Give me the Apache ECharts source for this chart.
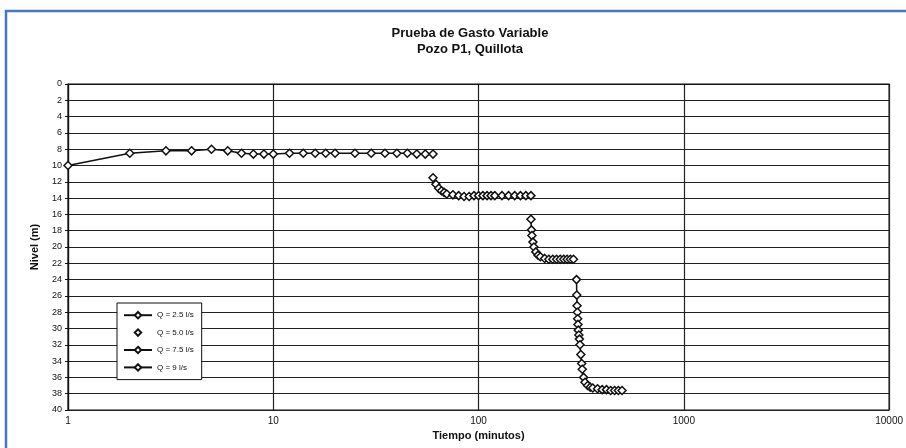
<!DOCTYPE html>
<html>
<head>
<meta charset="utf-8">
<script src="https://cdn.jsdelivr.net/npm/echarts@6/dist/echarts.min.js"></script>
<style>
  html, body { margin: 0; padding: 0; background: #fff; }
  #chart { width: 906px; height: 448px; }
</style>
</head>
<body>
<div id="chart"></div>
<script>
// tiempos (minutos) y niveles (m) de cada escalón
var t25 = [1, 2, 3, 4, 5, 6, 7, 8, 9, 10, 12, 14, 16, 18, 20, 25, 30, 35, 40, 45, 50, 55, 60];
var n25 = [10.0, 8.5, 8.2, 8.2, 8.0, 8.2, 8.5, 8.6, 8.6, 8.6, 8.5, 8.5, 8.5, 8.5, 8.5, 8.5, 8.5, 8.5, 8.5, 8.5, 8.6, 8.6, 8.6];

var t50 = [60, 62, 64, 66, 68, 70, 75, 80, 85, 90, 95, 100, 105, 110, 115, 120, 130, 140, 150, 160, 170, 180];
var n50 = [11.5, 12.3, 12.8, 13.1, 13.3, 13.5, 13.6, 13.7, 13.8, 13.8, 13.7, 13.7, 13.7, 13.7, 13.7, 13.7, 13.7, 13.7, 13.7, 13.7, 13.7, 13.7];

var t75 = [180, 181, 182, 184, 186, 190, 195, 200, 210, 220, 230, 240, 250, 260, 270, 280, 290];
var n75 = [16.6, 17.9, 18.6, 19.4, 20.0, 20.6, 21.0, 21.2, 21.4, 21.5, 21.5, 21.5, 21.5, 21.5, 21.5, 21.5, 21.5];

var t90 = [300, 301, 302, 303, 304, 305, 306, 308, 310, 312, 315, 318, 320, 325, 330, 340, 350, 360, 380, 400, 420, 440, 460, 480, 500];
var n90 = [24.0, 25.9, 27.2, 28.0, 28.8, 29.5, 30.2, 30.8, 31.3, 32.0, 33.2, 34.3, 35.0, 36.0, 36.6, 37.0, 37.2, 37.3, 37.4, 37.5, 37.5, 37.6, 37.6, 37.6, 37.6];

var nombres = ['Q = 2.5 l/s', 'Q = 5.0 l/s', 'Q = 7.5 l/s', 'Q = 9 l/s'];

function pares(t, n) {
    return t.map(function(v, i) { return [v, n[i]]; });
}

var font = "'Liberation Sans Narrow', 'Liberation Sans', Arial, sans-serif";

function serie(nombre, t, n, conLinea) {
    return {
        name: nombre,
        type: 'line',
        data: pares(t, n),
        symbol: 'diamond',
        symbolSize: 8,
        showAllSymbol: true,
        lineStyle: { color: '#111', width: conLinea ? 1.5 : 0 },
        itemStyle: { color: '#fff', borderColor: '#111', borderWidth: 1.5 },
        emphasis: { disabled: true },
        z: 3
    };
}

var chart = echarts.init(document.getElementById('chart'));
var option = {
    animation: false,
    backgroundColor: '#fff',
    title: {
        text: 'Prueba de Gasto Variable\nPozo P1, Quillota',
        left: 465,
        textAlign: 'center',
        top: 20,
        textStyle: { fontFamily: font, fontSize: 13, fontWeight: 'bold', color: '#111', lineHeight: 16 }
    },
    graphic: [{
        type: 'rect',
        shape: { x: 6, y: 11, width: 920, height: 460 },
        style: { fill: 'none', stroke: '#4a74c4', lineWidth: 2.5 },
        silent: true
    }],
    legend: {
        orient: 'vertical',
        left: 117,
        top: 303,
        data: nombres,
        backgroundColor: '#fff',
        borderColor: '#111',
        borderWidth: 1,
        padding: [8, 8, 8, 6],
        itemGap: 9,
        itemWidth: 28,
        itemHeight: 8,
        textStyle: { fontFamily: font, fontSize: 8, color: '#111' }
    },
    grid: {
        left: 68,
        right: 16,
        top: 84,
        bottom: 38,
        show: true,
        borderColor: '#111',
        borderWidth: 1.2
    },
    xAxis: {
        type: 'log',
        logBase: 10,
        min: 1,
        max: 10000,
        name: 'Tiempo (minutos)',
        nameLocation: 'middle',
        nameGap: 20,
        nameTextStyle: { fontFamily: font, fontSize: 11, fontWeight: 'bold', color: '#111' },
        axisLine: { lineStyle: { color: '#111', width: 1.2 } },
        axisTick: { show: true, length: 3, lineStyle: { color: '#111' } },
        axisLabel: {
            fontFamily: font, fontSize: 10, color: '#111', margin: 6,
            formatter: function(v) { return String(Math.round(v)); }
        },
        splitLine: { show: true, lineStyle: { color: '#222', width: 1.2 } }
    },
    yAxis: {
        type: 'value',
        inverse: true,
        min: 0,
        max: 40,
        interval: 2,
        name: 'Nivel (m)',
        nameLocation: 'middle',
        nameGap: 28,
        nameTextStyle: { fontFamily: font, fontSize: 11, fontWeight: 'bold', color: '#111' },
        axisLine: { lineStyle: { color: '#111', width: 1.2 } },
        axisTick: { show: true, length: 3, lineStyle: { color: '#111' } },
        axisLabel: { fontFamily: font, fontSize: 9, color: '#111', margin: 6 },
        splitLine: { show: true, lineStyle: { color: '#222', width: 1.2 } }
    },
    series: [
        serie(nombres[0], t25, n25, true),
        serie(nombres[1], t50, n50, false),
        serie(nombres[2], t75, n75, true),
        serie(nombres[3], t90, n90, true)
    ]
};
chart.setOption(option);
</script>
</body>
</html>
